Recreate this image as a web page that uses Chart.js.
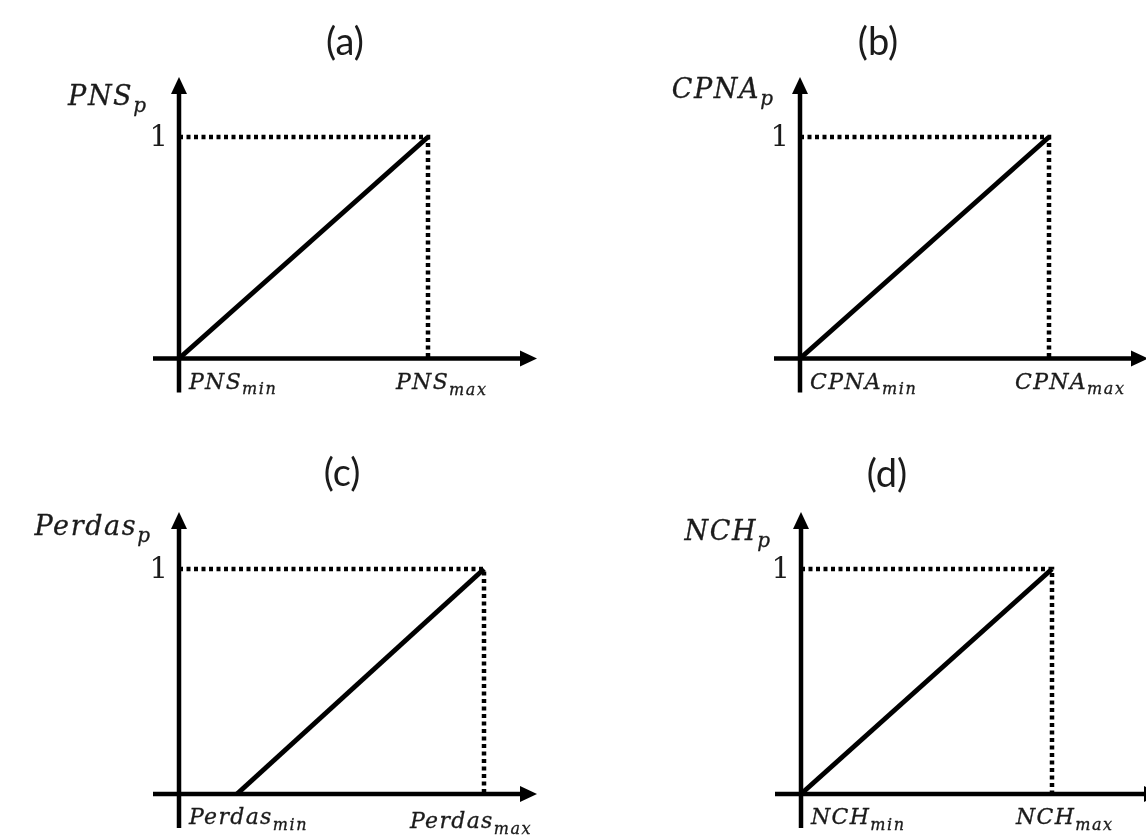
<!DOCTYPE html>
<html>
<head>
<meta charset="utf-8">
<script src="https://cdn.jsdelivr.net/npm/chart.js@4/dist/chart.umd.min.js"></script>
<style>
    html, body { margin: 0; padding: 0; background: #fff; }
    #wrap { position: relative; width: 1146px; height: 838px; overflow: hidden; }
    .panel { position: absolute; width: 573px; height: 419px; }
</style>
</head>
<body>
<div id="wrap">
    <div class="panel" style="left:0;top:0"><canvas id="chart-a" width="573" height="419"></canvas></div>
    <div class="panel" style="left:573px;top:0"><canvas id="chart-b" width="573" height="419"></canvas></div>
    <div class="panel" style="left:0;top:419px"><canvas id="chart-c" width="573" height="419"></canvas></div>
    <div class="panel" style="left:573px;top:419px"><canvas id="chart-d" width="573" height="419"></canvas></div>
</div>
<script>
// data: one entry per panel (a)..(d), x normalised so that <name>_max = 1
const panelTitles = ['(a)', '(b)', '(c)', '(d)'];
const varNames = ['PNS', 'CPNA', 'Perdas', 'NCH'];
const rampStart = [0, 0, 0.19, 0];   // x where the ramp leaves zero (Perdas_min sits right of the axis)
const rampEnd = [1, 1, 1, 1];        // x of <name>_max
const rampLow = 0;
const rampHigh = 1;
const yTickLabel = '1';

// layout of every panel, in canvas pixels
const frames = [
    {id: 'chart-a', ox: 179, oy: 358.5, ux: 249, uy: 221.5, xTip: 358, yTip: 281.5,
        title: [166, -316], yLab: [-31, -253.5], maxLab: [-32, 30.5]},
    {id: 'chart-b', ox: 227, oy: 358.5, ux: 249, uy: 221.5, xTip: 348, yTip: 281.5,
        title: [78, -316], yLab: [-25, -260.5], maxLab: [-34, 30]},
    {id: 'chart-c', ox: 179, oy: 375, ux: 305, uy: 225, xTip: 358, yTip: 282,
        title: [163, -320], yLab: [-27, -259], maxLab: [-74, 34]},
    {id: 'chart-d', ox: 228, oy: 375, ux: 251, uy: 225, xTip: 360, yTip: 282,
        title: [86, -319], yLab: [-29, -254], maxLab: [-36, 30]}
];

const INK = '#000';
const TEXT = '#1b1b1b';
const W = 573, H = 419;

function setFont(ctx, size, spacing) {
    ctx.font = 'italic ' + size + 'px "DejaVu Serif"';
    ctx.letterSpacing = spacing.toFixed(1) + 'px';
}

function drawMath(ctx, base, sub, x, y, size, align) {
    const subSize = Math.round(size * 0.74);
    const sp1 = size * 0.06, sp2 = subSize * 0.1;
    setFont(ctx, size, sp1);
    const w1 = ctx.measureText(base).width;
    setFont(ctx, subSize, sp2);
    const w2 = ctx.measureText(sub).width;
    let x0 = x;
    if (align === 'right') x0 = x - w1 - w2;
    if (align === 'center') x0 = x - (w1 + w2) / 2;
    ctx.textAlign = 'left';
    ctx.textBaseline = 'alphabetic';
    ctx.lineWidth = 0.3;
    ctx.strokeStyle = TEXT;
    setFont(ctx, size, sp1);
    ctx.fillText(base, x0, y);
    ctx.strokeText(base, x0, y);
    setFont(ctx, subSize, sp2);
    ctx.fillText(sub, x0 + w1, y + size * 0.27);
    ctx.strokeText(sub, x0 + w1, y + size * 0.27);
    ctx.letterSpacing = '0px';
}

function arrow(ctx, x, y, dx, dy) {
    // tip at (x,y), pointing along (dx,dy)
    const len = 17, half = 8;
    ctx.beginPath();
    ctx.moveTo(x, y);
    ctx.lineTo(x - dx * len - dy * half, y - dy * len + dx * half);
    ctx.lineTo(x - dx * len + dy * half, y - dy * len - dx * half);
    ctx.closePath();
    ctx.fill();
}

const axesPlugin = {
    id: 'arrowAxes',
    beforeDatasetsDraw(chart, args, opts) {
        const ctx = chart.ctx;
        const f = opts.frame;
        const x0 = chart.scales.x.getPixelForValue(0);
        const y0 = chart.scales.y.getPixelForValue(rampLow);
        ctx.save();
        ctx.strokeStyle = INK;
        ctx.fillStyle = INK;
        ctx.lineWidth = 4.5;
        ctx.beginPath();
        ctx.moveTo(x0 - 26, y0);
        ctx.lineTo(x0 + f.xTip - 12, y0);
        ctx.moveTo(x0, y0 + 34);
        ctx.lineTo(x0, y0 - f.yTip + 12);
        ctx.stroke();
        arrow(ctx, x0 + f.xTip, y0, 1, 0);
        arrow(ctx, x0, y0 - f.yTip, 0, -1);
        ctx.restore();
    },
    afterDatasetsDraw(chart, args, opts) {
        const ctx = chart.ctx;
        const f = opts.frame;
        const i = opts.index;
        const xs = chart.scales.x, ys = chart.scales.y;
        const x0 = xs.getPixelForValue(0);
        const y0 = ys.getPixelForValue(rampLow);
        const xMax = xs.getPixelForValue(rampEnd[i]);
        const yOne = ys.getPixelForValue(rampHigh);
        ctx.save();
        ctx.fillStyle = TEXT;

        ctx.font = '38px Lato';
        ctx.textAlign = 'center';
        ctx.textBaseline = 'middle';
        ctx.fillText(panelTitles[i], x0 + f.title[0], y0 + f.title[1]);

        ctx.font = '29px "DejaVu Serif"';
        ctx.textAlign = 'right';
        ctx.textBaseline = 'middle';
        ctx.fillText(yTickLabel, x0 - 11, yOne + 1);

        drawMath(ctx, varNames[i], 'p', x0 + f.yLab[0], y0 + f.yLab[1], 27, 'right');
        drawMath(ctx, varNames[i], 'min', x0 + 10, y0 + 30, 22, 'left');
        drawMath(ctx, varNames[i], 'max', xMax + f.maxLab[0], y0 + f.maxLab[1], 22, 'left');
        ctx.restore();
    }
};

frames.forEach(function (f, i) {
    new Chart(document.getElementById(f.id), {
        type: 'scatter',
        data: {
            datasets: [{
                data: [{x: rampStart[i], y: rampLow}, {x: rampEnd[i], y: rampHigh}],
                showLine: true,
                borderColor: INK,
                borderWidth: 5,
                pointRadius: 0
            }, {
                data: [{x: 0, y: rampHigh}, {x: rampEnd[i], y: rampHigh}, {x: rampEnd[i], y: rampLow}],
                showLine: true,
                borderColor: INK,
                borderWidth: 4.5,
                borderDash: [4, 3.5],
                pointRadius: 0
            }]
        },
        options: {
            responsive: false,
            animation: false,
            events: [],
            layout: {padding: 0, autoPadding: false},
            scales: {
                x: {type: 'linear', display: false, min: -f.ox / f.ux, max: (W - f.ox) / f.ux},
                y: {type: 'linear', display: false, min: -(H - f.oy) / f.uy, max: f.oy / f.uy}
            },
            plugins: {
                legend: {display: false},
                tooltip: {enabled: false},
                arrowAxes: {frame: f, index: i}
            }
        },
        plugins: [axesPlugin]
    });
});
</script>
</body>
</html>
